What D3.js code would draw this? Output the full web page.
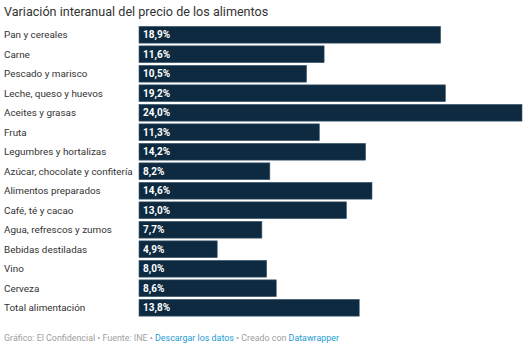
<!DOCTYPE html>
<html>
<head>
<meta charset="utf-8">
<script src="https://cdn.jsdelivr.net/npm/d3@7"></script>
<style>
  body { margin: 0; background: #fff; font-family: Roboto, "Noto Sans", sans-serif; }
  .title { font-size: 12.6px; fill: #333; }
  .cat { font-size: 9.9px; fill: #333; }
  .val { font-size: 10px; font-weight: bold; fill: #fff; }
  .foot { font-size: 8.9px; fill: #a0a0a0; }
  .link { fill: #1d9bd1; }
</style>
</head>
<body>
<div id="chart"></div>
<script>
// Data
var categories = ["Pan y cereales", "Carne", "Pescado y marisco", "Leche, queso y huevos",
    "Aceites y grasas", "Fruta", "Legumbres y hortalizas", "Azúcar, chocolate y confitería",
    "Alimentos preparados", "Café, té y cacao", "Agua, refrescos y zumos", "Bebidas destiladas",
    "Vino", "Cerveza", "Total alimentación"];
var values = [18.9, 11.6, 10.5, 19.2, 24.0, 11.3, 14.2, 8.2, 14.6, 13.0, 7.7, 4.9, 8.0, 8.6, 13.8];

var w = 532, h = 351;
var margin = {top: 25, right: 10, bottom: 41, left: 139};
var commaFormat = function(v) { return d3.format(".1f")(v).replace(".", ",") + "%"; };

var svg = d3.select("#chart").append("svg")
    .attr("width", w)
    .attr("height", h);

//Scales
var x = d3.scaleLinear()
    .domain([0, 24])
    .range([margin.left, 522]);

var y = d3.scaleBand()
    .domain(categories)
    .range([margin.top, margin.top + 19.5 * categories.length])
    .paddingInner(0.14)
    .paddingOuter(0.07);

//Title
svg.append("text")
    .attr("class", "title")
    .attr("x", 4)
    .attr("y", 16)
    .text("Variación interanual del precio de los alimentos");

var rows = svg.selectAll("g.row")
    .data(categories)
    .join("g")
    .attr("class", "row");

//Category labels
rows.append("text")
    .attr("class", "cat")
    .attr("x", 4)
    .attr("y", d => y(d) + y.bandwidth() / 2)
    .attr("dy", "0.35em")
    .text(d => d);

//Bars
rows.append("rect")
    .attr("x", x(0))
    .attr("y", d => y(d))
    .attr("width", (d, i) => x(values[i]) - x(0))
    .attr("height", y.bandwidth())
    .attr("fill", "#0e2a40")
    .attr("stroke", "#3c5a70")
    .attr("stroke-width", 0.6);

//Value labels
rows.append("text")
    .attr("class", "val")
    .attr("x", x(0) + 4)
    .attr("y", d => y(d) + y.bandwidth() / 2)
    .attr("dy", "0.36em")
    .text((d, i) => commaFormat(values[i]));

//Footer
var foot = svg.append("text")
    .attr("class", "foot")
    .attr("x", 4)
    .attr("y", 341);
foot.append("tspan").text("Gráfico: El Confidencial • Fuente: INE • ");
foot.append("tspan").attr("class", "link").text("Descargar los datos");
foot.append("tspan").text(" • Creado con ");
foot.append("tspan").attr("class", "link").text("Datawrapper");
</script>
</body>
</html>
